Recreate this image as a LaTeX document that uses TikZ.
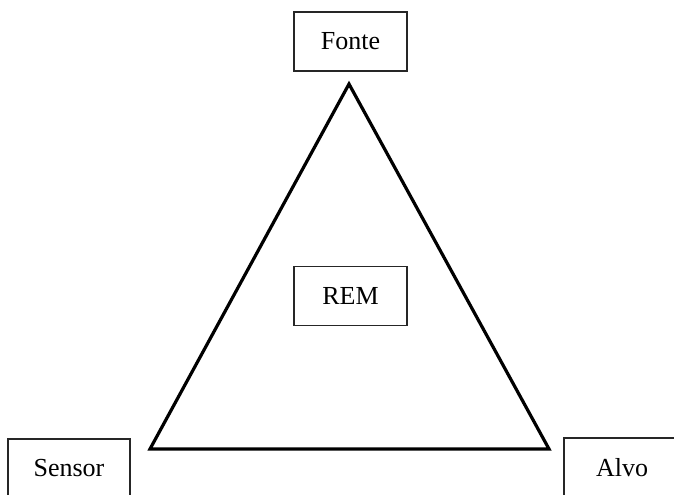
\documentclass[tikz,border=0pt]{standalone}
\usepackage{fontspec}
\setmainfont{Liberation Serif}
\begin{document}
\begin{tikzpicture}[x=0.75pt,y=-0.75pt,
  lbl/.style={draw=black!85,line width=0.8pt,inner sep=0pt,minimum width=113*0.75pt,minimum height=59*0.75pt,font=\fontsize{19.5}{22}\selectfont},
  tri/.style={draw=black,line width=2.4pt,line join=miter}]
\useasboundingbox (0,0) rectangle (674,494);
\clip (0,0) rectangle (674,494);
\node[lbl] (fonte) at (350.5,41.5) {Fonte};
\node[lbl] (rem) at (350.5,296) {REM};
\node[lbl,minimum width=122*0.75pt] (sensor) at (69,468.5) {Sensor};
\node[lbl,minimum width=116*0.75pt] (alvo) at (622,467.5) {Alvo};
\coordinate (a) at (349,84);
\coordinate (b) at (150,449);
\coordinate (c) at (549,449);
\draw[tri] (a) -- (b) -- (c) -- cycle;
\end{tikzpicture}
\end{document}
